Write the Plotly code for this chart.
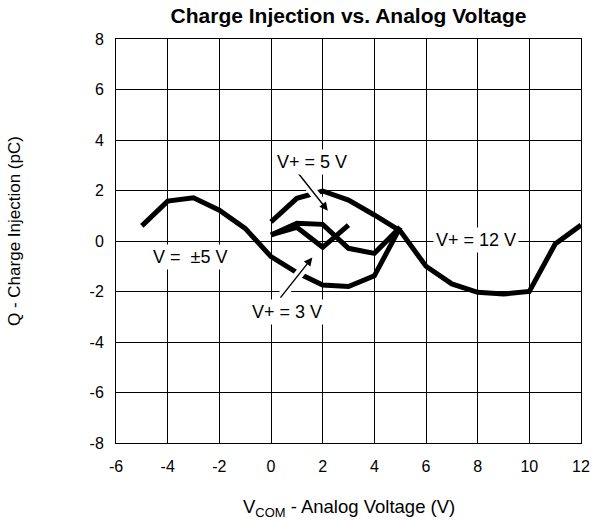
import plotly.graph_objects as go

# ---- data ----
x_pm5 = [-5, -4, -3, -2, -1, 0, 1, 2, 3, 4, 5]
q_pm5 = [0.6, 1.58, 1.71, 1.22, 0.5, -0.62, -1.25, -1.74, -1.8, -1.38, 0.54]

x_12 = [0, 1, 2, 3, 4, 5, 6, 7, 8, 9, 10, 11, 12]
q_12 = [0.76, 1.69, 1.98, 1.62, 1.03, 0.4, -1.0, -1.7, -2.03, -2.1, -2.0, -0.12, 0.63]

x_5 = [0, 1, 2, 3, 4, 5]
q_5 = [0.24, 0.7, 0.66, -0.29, -0.49, 0.54]

x_3 = [0, 1, 2, 3]
q_3 = [0.24, 0.54, -0.25, 0.63]

x_ticks = [-6, -4, -2, 0, 2, 4, 6, 8, 10, 12]
y_ticks = [-8, -6, -4, -2, 0, 2, 4, 6, 8]

FONT = "Liberation Sans, Arial, sans-serif"

fig = go.Figure()
for xs, qs in [(x_pm5, q_pm5), (x_12, q_12), (x_5, q_5), (x_3, q_3)]:
    fig.add_trace(go.Scatter(x=xs, y=qs, mode="lines",
                             line=dict(color="black", width=5),
                             showlegend=False, hoverinfo="skip"))

# arrows: (tail x, tail y, head x, head y)
arrows = [(0.94, 2.83, 2.2, 1.2), (0.32, -2.3, 1.6, -0.65)]
for tx, ty, hx, hy in arrows:
    fig.add_shape(type="line", x0=tx, y0=ty, x1=tx + (hx - tx) * 0.85, y1=ty + (hy - ty) * 0.85,
                  line=dict(color="white", width=9), layer="above")
    fig.add_annotation(x=hx, y=hy, ax=tx, ay=ty, xref="x", yref="y", axref="x", ayref="y",
                       text="", showarrow=True, arrowhead=2, arrowsize=1.2,
                       arrowwidth=1.4, arrowcolor="black", standoff=0, startstandoff=0)

labels = [("V+ = 5 V", 1.58, 3.13), ("V =  \u00b15 V", -3.13, -0.62),
          ("V+ = 3 V", 0.63, -2.8), ("V+ = 12 V", 7.93, 0.04)]
for txt, lx, ly in labels:
    fig.add_annotation(x=lx, y=ly, xref="x", yref="y", text=txt, showarrow=False,
                       bgcolor="white", borderpad=2,
                       font=dict(family=FONT, size=18, color="black"))

# axis titles
fig.add_annotation(x=-0.217, y=0.525, xref="paper", yref="paper",
                   text="Q - Charge Injection (pC)", textangle=-90, showarrow=False,
                   xanchor="center", yanchor="middle",
                   font=dict(family=FONT, size=17, color="black"))
fig.add_annotation(x=0.5, y=-0.161, xref="paper", yref="paper",
                   text="V<sub>COM</sub> - Analog Voltage (V)", showarrow=False,
                   xanchor="center", yanchor="middle",
                   font=dict(family=FONT, size=18.5, color="black"))

axis_common = dict(showgrid=True, gridcolor="black", gridwidth=1, showline=True,
                   linecolor="black", linewidth=1, mirror=True, zeroline=False,
                   automargin=False,
                   ticks="", tickfont=dict(family=FONT, size=16, color="black"))

fig.update_layout(
    width=592, height=523,
    margin=dict(l=116, r=11, t=39, b=80),
    paper_bgcolor="white", plot_bgcolor="white",
    hovermode=False,
    title=dict(text="<b>Charge Injection vs. Analog Voltage</b>", x=0.5, xref="paper",
               y=1 - 16 / 523, yref="container", yanchor="middle",
               font=dict(family=FONT, size=21, color="black")),
    xaxis=dict(range=[-6, 12], tickvals=x_ticks, ticktext=[str(v) for v in x_ticks],
               ticklabelstandoff=9, **axis_common),
    yaxis=dict(range=[-8, 8], tickvals=y_ticks, ticktext=[str(v) for v in y_ticks],
               ticklabelstandoff=8, **axis_common),
)

# remove the page's default body margin so the figure fills the window exactly
fig.write_html("out.html",
               config={"displayModeBar": False, "staticPlot": True},
               post_script="document.body.style.margin='0';document.body.style.overflow='hidden';")
